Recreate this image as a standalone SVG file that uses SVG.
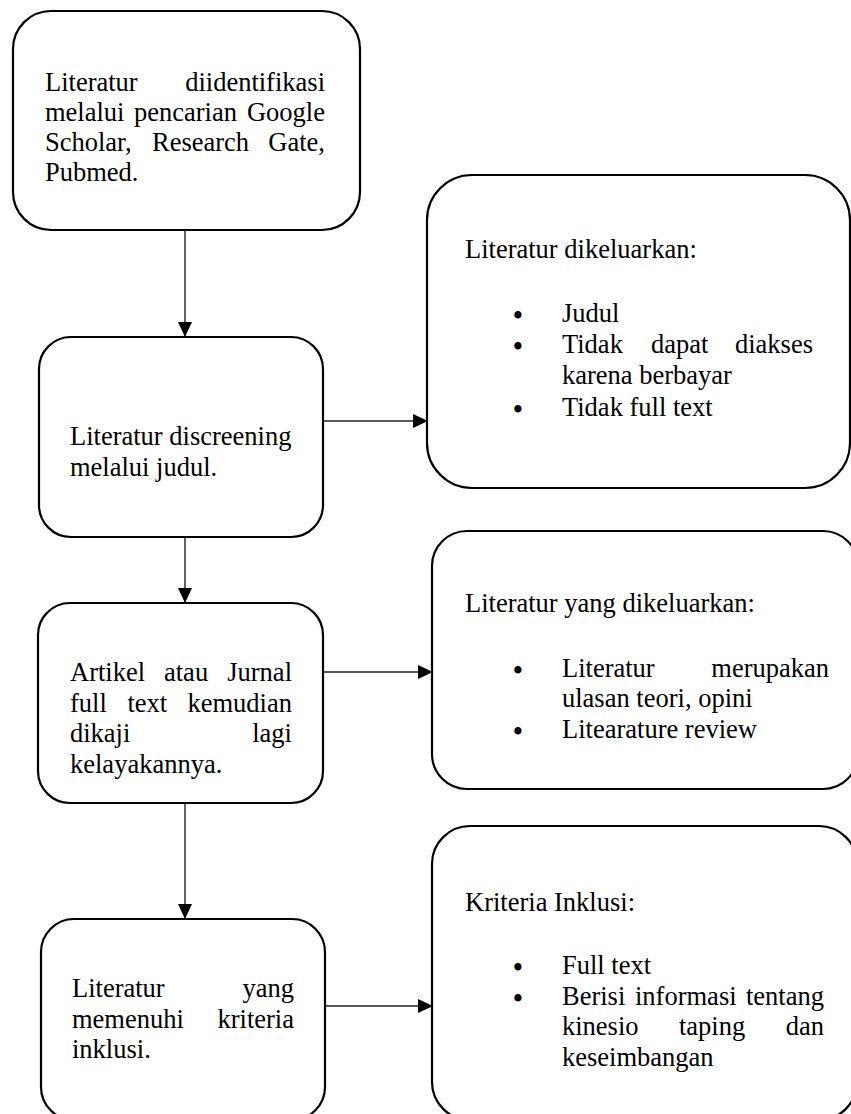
<svg xmlns="http://www.w3.org/2000/svg" width="851" height="1114" viewBox="0 0 851 1114">
<style>
.box{fill:#fff;stroke:#000;stroke-width:2.2}
.t{font-family:"Liberation Serif","Times New Roman",serif;font-size:26.5px;fill:#000}
.e{text-anchor:end}
.b{font-family:"Liberation Serif","Times New Roman",serif;font-size:26.5px;font-weight:bold;fill:#000;text-anchor:middle}
.c{stroke:#222;stroke-width:1.4;fill:none}
</style>
<defs>
<marker id="ah" markerUnits="userSpaceOnUse" markerWidth="16" markerHeight="15" refX="15" refY="7" orient="auto">
<path d="M0,0 L15,7 L0,14 Z" fill="#000"/>
</marker>
</defs>
<rect width="851" height="1114" fill="#fff"/>
<g id="connectors">
<line class="c" x1="185" y1="231" x2="185" y2="337" marker-end="url(#ah)"/>
<line class="c" x1="185" y1="538" x2="185" y2="603" marker-end="url(#ah)"/>
<line class="c" x1="185" y1="804" x2="185" y2="919" marker-end="url(#ah)"/>
<line class="c" x1="324" y1="421" x2="428" y2="421" marker-end="url(#ah)"/>
<line class="c" x1="324" y1="672" x2="433" y2="672" marker-end="url(#ah)"/>
<line class="c" x1="326" y1="1006" x2="433" y2="1006" marker-end="url(#ah)"/>
</g>
<g id="node1">
<rect class="box" x="13" y="11" width="347" height="219" rx="38"/>
<text class="t" x="45" y="91">Literatur</text>
<text class="t e" x="325" y="91">diidentifikasi</text>
<text class="t" x="45" y="121">melalui</text>
<text class="t" x="134" y="121">pencarian</text>
<text class="t e" x="325" y="121">Google</text>
<text class="t" x="45" y="151">Scholar,</text>
<text class="t" x="152" y="151">Research</text>
<text class="t e" x="325" y="151">Gate,</text>
<text class="t" x="45" y="181">Pubmed.</text>
</g>
<g id="node2">
<rect class="box" x="39" y="337" width="284" height="200" rx="32"/>
<text class="t" x="70" y="445">Literatur discreening</text>
<text class="t" x="70" y="476">melalui judul.</text>
</g>
<g id="node3">
<rect class="box" x="38" y="603" width="285" height="200" rx="32"/>
<text class="t" x="70" y="681">Artikel</text>
<text class="t" x="164" y="681">atau</text>
<text class="t e" x="292" y="681">Jurnal</text>
<text class="t" x="70" y="712">full</text>
<text class="t" x="127.5" y="712">text</text>
<text class="t e" x="292" y="712">kemudian</text>
<text class="t" x="70" y="742">dikaji</text>
<text class="t e" x="292" y="742">lagi</text>
<text class="t" x="70" y="773">kelayakannya.</text>
</g>
<g id="node4">
<rect class="box" x="41" y="919" width="284" height="201" rx="33"/>
<text class="t" x="72" y="997">Literatur</text>
<text class="t e" x="294" y="997">yang</text>
<text class="t" x="72" y="1028">memenuhi</text>
<text class="t e" x="294" y="1028">kriteria</text>
<text class="t" x="72" y="1058">inklusi.</text>
</g>
<g id="node5">
<rect class="box" x="427" y="175" width="423" height="313" rx="45"/>
<text class="t" x="465" y="258">Literatur dikeluarkan:</text>
<text class="b" x="518" y="324">•</text>
<text class="t" x="562" y="322">Judul</text>
<text class="b" x="518" y="355">•</text>
<text class="t" x="562" y="353">Tidak</text>
<text class="t" x="651" y="353">dapat</text>
<text class="t e" x="813" y="353">diakses</text>
<text class="t" x="562" y="384">karena berbayar</text>
<text class="b" x="518" y="418">•</text>
<text class="t" x="562" y="416">Tidak full text</text>
</g>
<g id="node6">
<rect class="box" x="432" y="531" width="426" height="258" rx="35"/>
<text class="t" x="465" y="612">Literatur yang dikeluarkan:</text>
<text class="b" x="518" y="679">•</text>
<text class="t" x="562" y="677">Literatur</text>
<text class="t e" x="829" y="677">merupakan</text>
<text class="t" x="562" y="707">ulasan teori, opini</text>
<text class="b" x="518" y="740">•</text>
<text class="t" x="562" y="738">Litearature review</text>
</g>
<g id="node7">
<rect class="box" x="432" y="826" width="425" height="294" rx="38"/>
<text class="t" x="465" y="911">Kriteria Inklusi:</text>
<text class="b" x="518" y="976">•</text>
<text class="t" x="562" y="974">Full text</text>
<text class="b" x="518" y="1007">•</text>
<text class="t" x="562" y="1005">Berisi</text>
<text class="t" x="635" y="1005">informasi</text>
<text class="t e" x="824" y="1005">tentang</text>
<text class="t" x="562" y="1035">kinesio</text>
<text class="t" x="679" y="1035">taping</text>
<text class="t e" x="824" y="1035">dan</text>
<text class="t" x="562" y="1066">keseimbangan</text>
</g>
</svg>
